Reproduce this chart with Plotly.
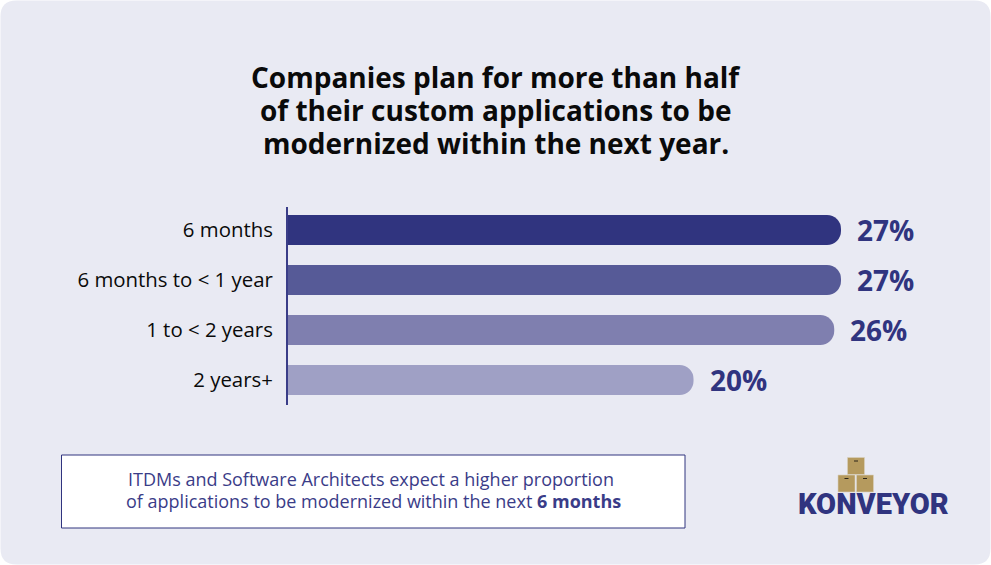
import plotly.graph_objects as go

W, H = 991, 565
categories = ["6 months", "6 months to < 1 year", "1 to < 2 years", "2 years+"]
bar_lengths = [27, 27, 26.67, 19.8]  # as drawn in the picture
value_labels = ["27%", "27%", "26%", "20%"]
bar_colors = ["#30347F", "#565A97", "#7F7FAF", "#9FA0C5"]
title_lines = ["Companies plan for more than half", "of their custom applications to be",
               "modernized within the next year."]
note_lines = ["ITDMs and Software Architects expect a higher proportion",
              "of applications to be modernized within the next <b>6 months</b>"]
logo_text = "KONVEYOR"

NAVY = "#30347F"
FONT = "Open Sans"

def px(x): return x / W
def py(y): return 1 - y / H

def rrect(x0, y0, x1, y1, r):
    X0, X1, Y0, Y1 = px(x0), px(x1), py(y0), py(y1)
    rx, ry = r / W, r / H
    return (f"M {X0+rx} {Y0} L {X1-rx} {Y0} Q {X1} {Y0} {X1} {Y0-ry} L {X1} {Y1+ry} "
            f"Q {X1} {Y1} {X1-rx} {Y1} L {X0+rx} {Y1} Q {X0} {Y1} {X0} {Y1+ry} "
            f"L {X0} {Y0-ry} Q {X0} {Y0} {X0+rx} {Y0} Z")

fig = go.Figure(go.Bar(
    y=categories, x=bar_lengths, orientation="h",
    marker=dict(color=bar_colors, line=dict(width=0), cornerradius=14),
    width=0.6, hoverinfo="skip",
))

shapes = [
    dict(type="path", path=rrect(0.5, 0.5, 990.5, 564.5, 16), xref="paper", yref="paper",
         fillcolor="#E9EAF3", line=dict(width=0), layer="below"),
    dict(type="rect", xref="paper", yref="paper", x0=px(61.5), x1=px(685), y0=py(455), y1=py(528),
         fillcolor="white", line=dict(color=NAVY, width=1), layer="below"),
]
for (x0, y0) in [(847.5, 457.5), (838, 475), (856.5, 475)]:
    shapes.append(dict(type="rect", xref="paper", yref="paper", x0=px(x0), x1=px(x0 + 17),
                       y0=py(y0), y1=py(y0 + 17), fillcolor="#B59A5E",
                       line=dict(color="#D8D2C0", width=0.6), layer="below"))
    shapes.append(dict(type="rect", xref="paper", yref="paper", x0=px(x0 + 6.5), x1=px(x0 + 10.5),
                       y0=py(y0 + 3), y1=py(y0 + 4), fillcolor="#2A2418",
                       line=dict(width=0), layer="below"))

annotations = [
    dict(text=logo_text, x=px(873), y=py(503.5), xref="paper", yref="paper",
         xanchor="center", yanchor="middle", showarrow=False,
         font=dict(family="Roboto", size=29, color=NAVY, weight=900)),
]
for line, yc in zip(title_lines, [77, 110, 143]):
    annotations.append(dict(text=line, x=px(495.5), y=py(yc), xref="paper", yref="paper",
                            xanchor="center", yanchor="middle", showarrow=False,
                            font=dict(family=FONT, size=28, color="#0A0A0A", weight=700)))
for line, yc, xc in zip(note_lines, [479, 501], [370.5, 373.5]):
    annotations.append(dict(text=line, x=px(xc), y=py(yc), xref="paper", yref="paper",
                            xanchor="center", yanchor="middle", showarrow=False,
                            font=dict(family=FONT, size=18, color="#3A3C88")))
for c, v, t in zip(categories, bar_lengths, value_labels):
    annotations.append(dict(text=t, x=v, y=c, xref="x", yref="y", xanchor="left", yanchor="middle",
                            xshift=14, yshift=0.5, showarrow=False,
                            font=dict(family=FONT, size=28, color=NAVY, weight=700)))

fig.update_layout(
    width=W, height=H, autosize=False,
    margin=dict(l=0, r=0, t=0, b=0),
    paper_bgcolor="white", plot_bgcolor="rgba(0,0,0,0)",
    showlegend=False, shapes=shapes, annotations=annotations,
    xaxis=dict(domain=[px(288), px(841)], range=[0, 27], visible=False, fixedrange=True),
    yaxis=dict(domain=[py(405), py(207)], autorange=False, range=[3.5, -0.46],
               categoryorder="array", categoryarray=categories,
               showline=True, linecolor="#3A3D88", linewidth=2, ticks="",
               ticklabelstandoff=9, showgrid=False, zeroline=False, fixedrange=True,
               tickfont=dict(family=FONT, size=20.4, color="#0A0A0A")),
)

fig.write_html("out.html", config={"displayModeBar": False},
               post_script="document.body.style.margin='0';")
